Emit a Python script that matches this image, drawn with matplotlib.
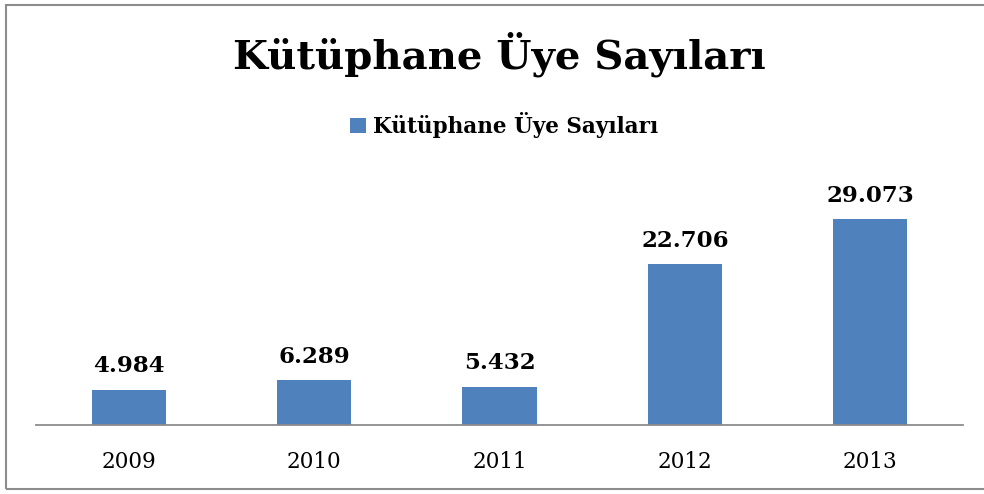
import matplotlib.pyplot as plt
import numpy as np
from matplotlib.patches import Rectangle

years = ['2009', '2010', '2011', '2012', '2013']
members = [4984, 6289, 5432, 22706, 29073]
value_labels = ['4.984', '6.289', '5.432', '22.706', '29.073']
series_name = 'Kütüphane Üye Sayıları'
title = 'Kütüphane Üye Sayıları'

bar_color = '#4F81BD'
serif = ['DejaVu Serif']

fig = plt.figure(figsize=(9.84, 4.94), dpi=100)
# outer chart frame (right edge runs off the image)
fig.patches.append(Rectangle((6/984, 5/494), 990/984, 484/494, transform=fig.transFigure,
                             fill=False, edgecolor='#8c8c8c', linewidth=1.5))

ax = fig.add_axes([36/984, 69/494, 927/984, 265/494])
x = np.arange(len(years))
bars = ax.bar(x, members, width=0.4, color=bar_color, label=series_name)

for xi, v, lab in zip(x, members, value_labels):
    ax.annotate(lab, (xi, v), xytext=(0, 9), textcoords='offset points',
                ha='center', va='bottom', fontsize=16.5, fontweight='bold',
                family=serif)

ax.set_xlim(-0.5, 4.5)
ax.set_ylim(0, 37400)
ax.set_xticks(x)
ax.set_xticklabels(years, fontsize=15.5, family=serif)
ax.tick_params(axis='x', length=0, pad=19)
ax.set_yticks([])
for s in ['top', 'right', 'left']:
    ax.spines[s].set_visible(False)
ax.spines['bottom'].set_color('#8c8c8c')
ax.spines['bottom'].set_linewidth(1.3)

fig.text(499/984, 1 - 54/494, title, ha='center', va='center',
         fontsize=29, fontweight='bold', family=serif)

fig.legend(handles=[bars], labels=[series_name], loc='center',
           bbox_to_anchor=(504/984, 1 - 125/494), frameon=False,
           prop={'family': serif, 'weight': 'bold', 'size': 15.5},
           handlelength=0.75, handleheight=0.75, handletextpad=0.35)

fig.savefig('out.png', dpi=100)
